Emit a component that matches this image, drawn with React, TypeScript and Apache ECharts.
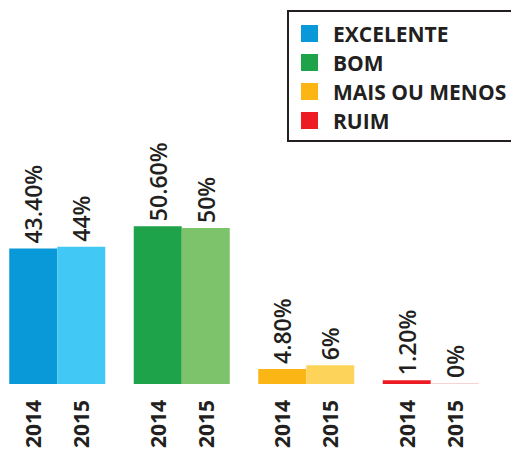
import React, { useEffect, useRef } from "react";
import * as echarts from "echarts";

const categories = ["EXCELENTE", "BOM", "MAIS OU MENOS", "RUIM"];
const years = ["2014", "2015"];
const values2014 = [43.4, 50.6, 4.8, 1.2];
const values2015 = [44, 50, 6, 0];
const labels2014 = ["43.40%", "50.60%", "4.80%", "1.20%"];
const labels2015 = ["44%", "50%", "6%", "0%"];
const colors2014 = ["#0998d8", "#1ea24a", "#fbb616", "#ed1c24"];
const colors2015 = ["#42c8f4", "#7dc36b", "#fdd35a", "#f9d3d3"];

const FONT = "'Open Sans', sans-serif";
const TEXT = "#231f20";

export default function App() {
  const ref = useRef<HTMLDivElement>(null);
  useEffect(() => {
    if (!ref.current) return;
    const chart = echarts.init(ref.current, undefined, { renderer: "svg" });
    const makeSeries = (
      yearIdx: number,
      vals: number[],
      labels: string[],
      cols: string[]
    ) =>
      categories.map((cat, i) => ({
        name: cat,
        type: "bar",
        stack: years[yearIdx],
        barWidth: 48,
        barGap: "0%",
        barMinHeight: 1,
        itemStyle: { color: cols[i] },
        data: categories.map((_, j) => (j === i ? vals[i] : "-")),
        label: {
          show: true,
          position: "top",
          rotate: 90,
          align: "left",
          verticalAlign: "middle",
          distance: 5,
          fontFamily: FONT,
          fontSize: 23,
          fontWeight: 600,
          color: TEXT,
          formatter: () => labels[i],
        },
      }));
    chart.setOption({
      animation: false,
      grid: {
        left: 15,
        right: 18,
        top: 72,
        bottom: 65,
        containLabel: false,
        outerBoundsMode: "none",
      },
      legend: {
        data: categories,
        orient: "vertical",
        left: 308,
        top: 11,
        itemWidth: 17,
        itemHeight: 17,
        itemGap: 8,
        icon: "rect",
        selectedMode: false,
        padding: [12, 40, 10, 13],
        borderColor: TEXT,
        borderWidth: 2,
        textStyle: {
          fontFamily: FONT,
          fontSize: 21,
          fontWeight: "bold",
          color: TEXT,
          padding: [0, 0, 0, 10],
        },
      },
      xAxis: {
        type: "category",
        data: categories,
        axisLine: { show: false },
        axisTick: { show: false },
        axisLabel: {
          interval: 0,
          rotate: 90,
          margin: 16,
          fontFamily: FONT,
          fontSize: 21,
          fontWeight: "bold",
          color: TEXT,
          lineHeight: 48,
          formatter: () => years.join("\n"),
        },
      },
      yAxis: {
        type: "value",
        min: 0,
        max: 100,
        show: false,
        splitLine: { show: false },
      },
      series: [
        ...makeSeries(0, values2014, labels2014, colors2014),
        ...makeSeries(1, values2015, labels2015, colors2015),
      ],
    });
    return () => chart.dispose();
  }, []);
  return (
    <div
      ref={ref}
      style={{ position: "absolute", left: -20, top: 0, width: 531, height: 449 }}
    />
  );
}
